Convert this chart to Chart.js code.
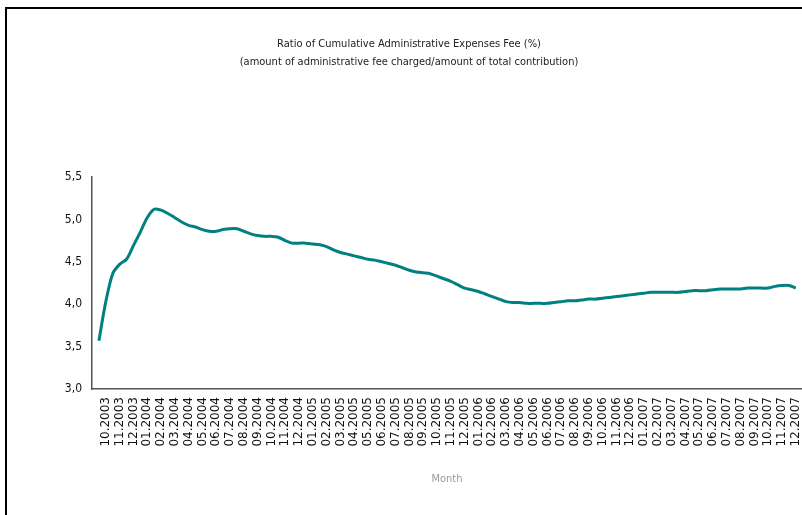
<!DOCTYPE html>
<html><head><meta charset="utf-8">
<script src="https://cdn.jsdelivr.net/npm/chart.js@4.4.1/dist/chart.umd.min.js"></script>
<style>
html,body{margin:0;padding:0;background:#fff;overflow:hidden;width:802px;height:515px}
#frame{position:absolute;left:5px;top:7px;width:900px;height:600px;border:2px solid #000;box-sizing:border-box}
#wrap{position:absolute;left:0;top:0;width:802px;height:515px}
</style></head><body>
<div id="frame"></div>
<div id="wrap"><canvas id="c" width="802" height="515"></canvas></div>
<script>
const titleLines = [
  'Ratio of Cumulative Administrative Expenses Fee (%)',
  '(amount of administrative fee charged/amount of total contribution)'
];
const xAxisTitle = 'Month';
const months = [
  '10.2003','11.2003','12.2003',
  '01.2004','02.2004','03.2004','04.2004','05.2004','06.2004','07.2004','08.2004','09.2004','10.2004','11.2004','12.2004',
  '01.2005','02.2005','03.2005','04.2005','05.2005','06.2005','07.2005','08.2005','09.2005','10.2005','11.2005','12.2005',
  '01.2006','02.2006','03.2006','04.2006','05.2006','06.2006','07.2006','08.2006','09.2006','10.2006','11.2006','12.2006',
  '01.2007','02.2007','03.2007','04.2007','05.2007','06.2007','07.2007','08.2007','09.2007','10.2007','11.2007','12.2007'
];
const yTicks = [3.0, 3.5, 4.0, 4.5, 5.0, 5.5];
// half-monthly observations; the first one is half a month before 10.2003
const firstObservation = -0.5;   // in months relative to 10.2003
const observationStep = 0.5;     // months between observations
const ratio = [
  3.57, 4.03, 4.36, 4.47, 4.53, 4.69, 4.85, 5.02, 5.12, 5.11,
  5.07, 5.02, 4.97, 4.93, 4.91, 4.88, 4.86, 4.86, 4.88, 4.89,
  4.89, 4.86, 4.83, 4.81, 4.80, 4.80, 4.79, 4.75, 4.72, 4.72,
  4.72, 4.71, 4.70, 4.68, 4.64, 4.61, 4.59, 4.57, 4.55, 4.53,
  4.52, 4.50, 4.48, 4.46, 4.43, 4.40, 4.38, 4.37, 4.36, 4.33,
  4.30, 4.27, 4.23, 4.19, 4.17, 4.15, 4.12, 4.09, 4.06, 4.03,
  4.02, 4.02, 4.01, 4.01, 4.01, 4.01, 4.02, 4.03, 4.04, 4.04,
  4.05, 4.06, 4.06, 4.07, 4.08, 4.09, 4.10, 4.11, 4.12, 4.13,
  4.14, 4.14, 4.14, 4.14, 4.14, 4.15, 4.16, 4.16, 4.16, 4.17,
  4.18, 4.18, 4.18, 4.18, 4.19, 4.19, 4.19, 4.19, 4.21, 4.22,
  4.22, 4.19
];

const points = ratio.map((v, i) => ({ x: firstObservation + i * observationStep, y: v }));
const narrow = '"DejaVu Sans Condensed", "Liberation Sans Narrow", "Arial Narrow", sans-serif';

new Chart(document.getElementById('c'), {
  type: 'line',
  data: {
    datasets: [{
      data: points,
      borderColor: '#008080',
      borderWidth: 3,
      pointRadius: 0,
      tension: 0.3,
      fill: false
    }]
  },
  options: {
    responsive: false,
    animation: false,
    devicePixelRatio: 1,
    layout: { padding: { left: 16, right: 0, top: 0, bottom: 0 } },
    plugins: {
      legend: { display: false },
      tooltip: { enabled: false },
      title: {
        display: true,
        text: titleLines,
        color: '#222',
        font: { family: narrow, size: 11, weight: 'normal', lineHeight: 1.65 },
        padding: { top: 35, bottom: 105.7 }
      }
    },
    scales: {
      x: {
        type: 'linear',
        min: -1,
        max: 50.45,
        grid: { display: false, drawTicks: false },
        border: { display: true, color: '#555', width: 1.5 },
        afterBuildTicks: s => { s.ticks = months.map((m, i) => ({ value: i })); },
        ticks: {
          autoSkip: false,
          minRotation: 90,
          maxRotation: 90,
          padding: 8,
          color: '#111',
          font: { family: '"DejaVu Sans", Verdana, sans-serif', size: 12 },
          callback: v => months[v] || ''
        },
        title: {
          display: true,
          text: xAxisTitle,
          color: '#999',
          font: { family: narrow, size: 11 },
          padding: { top: 0, bottom: 29 }
        },
        afterFit: s => { s.height = 126; s.paddingLeft = 0; s.paddingRight = 0; }
      },
      y: {
        min: 3,
        max: 5.5,
        grid: { display: false, drawTicks: false },
        border: { display: true, color: '#555', width: 1.5 },
        afterBuildTicks: s => { s.ticks = yTicks.map(v => ({ value: v })); },
        ticks: {
          padding: 10,
          color: '#111',
          font: { family: narrow, size: 12 },
          callback: v => Number(v).toFixed(1).replace('.', ',')
        },
        afterFit: s => { s.width = 76; s.paddingTop = 0; s.paddingBottom = 0; }
      }
    }
  }
});
</script>
</body></html>
